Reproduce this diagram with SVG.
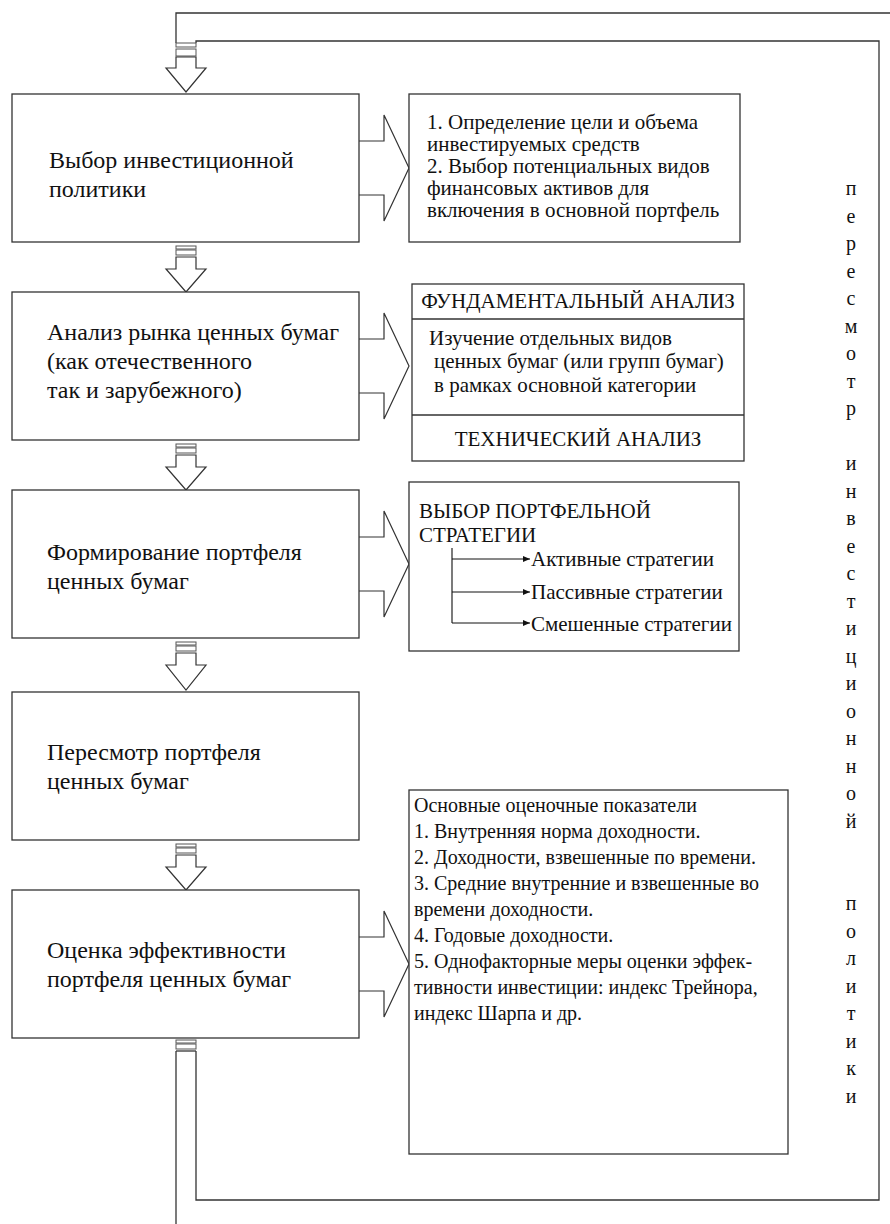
<svg xmlns="http://www.w3.org/2000/svg" width="890" height="1224" viewBox="0 0 890 1224">
<style>
.box{fill:#fff;stroke:#333;stroke-width:1.3}
.ln{fill:none;stroke:#333;stroke-width:1.3}
.arr{fill:#fff;stroke:#333;stroke-width:1.2}
.bar{fill:#fff;stroke:#555;stroke-width:1}
text{font-family:'Liberation Serif','DejaVu Serif',serif;fill:#111}
.big{font-size:24px}
.mid{font-size:21px}
.sm{font-size:20px}
.vt{font-size:20px;text-anchor:middle}
</style>
<defs>
<marker id="ah" markerWidth="8" markerHeight="8" refX="7" refY="4" orient="auto" markerUnits="userSpaceOnUse">
<path d="M0,1 L7,4 L0,7 Z" fill="#111"/>
</marker>
</defs>
<g id="connectors">
<path class="ln" d="M890,13 H176 V43"/>
<path class="ln" d="M196,43 V41 H879 V1200 H196 V1051"/>
<path class="ln" d="M176,1051 V1224"/>
<rect class="bar" x="176" y="43" width="20" height="4"/>
<rect class="bar" x="176" y="49" width="20" height="7"/>
<path class="arr" d="M176,57 H196 V68 H206 L186,92 L166,68 H176 Z"/>
<rect class="bar" x="176" y="246" width="20" height="3"/>
<rect class="bar" x="176" y="250" width="20" height="5"/>
<path class="arr" d="M176,257 H196 V269 H206 L186,292 L166,269 H176 Z"/>
<rect class="bar" x="176" y="444" width="20" height="3"/>
<rect class="bar" x="176" y="448" width="20" height="5"/>
<path class="arr" d="M176,455 H196 V467 H206 L186,490 L166,467 H176 Z"/>
<rect class="bar" x="176" y="642" width="20" height="3"/>
<rect class="bar" x="176" y="646" width="20" height="5"/>
<path class="arr" d="M176,653 H196 V665 H206 L186,690 L166,665 H176 Z"/>
<rect class="bar" x="176" y="844" width="20" height="3"/>
<rect class="bar" x="176" y="848" width="20" height="5"/>
<path class="arr" d="M176,855 H196 V867 H206 L186,890 L166,867 H176 Z"/>
<rect class="bar" x="176" y="1040" width="20" height="3"/>
<rect class="bar" x="176" y="1044" width="20" height="5"/>
<path class="ln" d="M176,1051 H196"/>
<path class="arr" d="M359,141 H384 V115 L409,168 L384,221 V195 H359"/>
<path class="arr" d="M359,339 H384 V313 L409,366 L384,419 V393 H359"/>
<path class="arr" d="M359,537 H384 V511 L409,564 L384,617 V591 H359"/>
<path class="arr" d="M359,937 H384 V911 L409,964 L384,1017 V991 H359"/>
</g>
<g id="stage1">
<rect class="box" x="12" y="94" width="347" height="148"/>
<text class="big" x="49" y="168">Выбор инвестиционной</text>
<text class="big" x="49" y="197">политики</text>
</g>
<g id="stage2">
<rect class="box" x="12" y="292" width="347" height="148"/>
<text class="big" x="47" y="340">Анализ рынка ценных бумаг</text>
<text class="big" x="47" y="369">(как отечественного</text>
<text class="big" x="47" y="398">так и  зарубежного)</text>
</g>
<g id="stage3">
<rect class="box" x="12" y="490" width="347" height="148"/>
<text class="big" x="47" y="560">Формирование  портфеля</text>
<text class="big" x="47" y="589">ценных  бумаг</text>
</g>
<g id="stage4">
<rect class="box" x="12" y="692" width="347" height="148"/>
<text class="big" x="47" y="760">Пересмотр  портфеля</text>
<text class="big" x="47" y="789">ценных бумаг</text>
</g>
<g id="stage5">
<rect class="box" x="12" y="890" width="347" height="148"/>
<text class="big" x="47" y="958">Оценка эффективности</text>
<text class="big" x="47" y="987">портфеля ценных бумаг</text>
</g>
<g id="goals">
<rect class="box" x="409" y="94" width="331" height="148"/>
<text class="mid" x="427" y="129">1. Определение цели и объема</text>
<text class="mid" x="427" y="151">инвестируемых средств</text>
<text class="mid" x="427" y="173">2. Выбор потенциальных  видов</text>
<text class="mid" x="427" y="195">финансовых активов для</text>
<text class="mid" x="427" y="217">включения в основной портфель</text>
</g>
<g id="analysis">
<rect class="box" x="412" y="284" width="332" height="177"/>
<line class="ln" x1="412" y1="319" x2="744" y2="319"/>
<line class="ln" x1="412" y1="415" x2="744" y2="415"/>
<text class="mid" x="578" y="308" text-anchor="middle">ФУНДАМЕНТАЛЬНЫЙ АНАЛИЗ</text>
<text class="mid" x="429" y="345">Изучение отдельных  видов</text>
<text class="mid" x="434" y="368">ценных  бумаг (или групп бумаг)</text>
<text class="mid" x="434" y="392">в рамках основной  категории</text>
<text class="mid" x="578" y="446" text-anchor="middle">ТЕХНИЧЕСКИЙ АНАЛИЗ</text>
</g>
<g id="strategy">
<rect class="box" x="409" y="482" width="330" height="169"/>
<text class="mid" x="419" y="518">ВЫБОР ПОРТФЕЛЬНОЙ</text>
<text class="mid" x="419" y="542">СТРАТЕГИИ</text>
<path class="ln" d="M452,548 V623" stroke-width="1"/>
<line x1="452" y1="559" x2="530" y2="559" stroke="#111" stroke-width="1" marker-end="url(#ah)"/>
<line x1="452" y1="592" x2="530" y2="592" stroke="#111" stroke-width="1" marker-end="url(#ah)"/>
<line x1="452" y1="623" x2="530" y2="623" stroke="#111" stroke-width="1" marker-end="url(#ah)"/>
<text class="mid" x="531" y="566">Активные стратегии</text>
<text class="mid" x="531" y="599">Пассивные стратегии</text>
<text class="mid" x="531" y="631">Смешенные стратегии</text>
</g>
<g id="evaluation">
<rect class="box" x="409" y="790" width="379" height="364"/>
<text class="sm" x="414" y="812">Основные оценочные показатели</text>
<text class="sm" x="414" y="838">1. Внутренняя норма доходности.</text>
<text class="sm" x="414" y="864">2. Доходности, взвешенные по времени.</text>
<text class="sm" x="414" y="890">3. Средние внутренние и взвешенные во</text>
<text class="sm" x="414" y="916">времени доходности.</text>
<text class="sm" x="414" y="942">4. Годовые доходности.</text>
<text class="sm" x="414" y="968">5. Однофакторные меры оценки эффек-</text>
<text class="sm" x="414" y="994">тивности инвестиции: индекс Трейнора,</text>
<text class="sm" x="414" y="1020">индекс Шарпа и др.</text>
</g>
<g id="feedback-label">
<text class="vt" x="851" y="195">п<tspan x="851" dy="27.5">е</tspan><tspan x="851" dy="27.5">р</tspan><tspan x="851" dy="27.5">е</tspan><tspan x="851" dy="27.5">с</tspan><tspan x="851" dy="27.5">м</tspan><tspan x="851" dy="27.5">о</tspan><tspan x="851" dy="27.5">т</tspan><tspan x="851" dy="27.5">р</tspan><tspan x="851" dy="55">и</tspan><tspan x="851" dy="27.5">н</tspan><tspan x="851" dy="27.5">в</tspan><tspan x="851" dy="27.5">е</tspan><tspan x="851" dy="27.5">с</tspan><tspan x="851" dy="27.5">т</tspan><tspan x="851" dy="27.5">и</tspan><tspan x="851" dy="27.5">ц</tspan><tspan x="851" dy="27.5">и</tspan><tspan x="851" dy="27.5">о</tspan><tspan x="851" dy="27.5">н</tspan><tspan x="851" dy="27.5">н</tspan><tspan x="851" dy="27.5">о</tspan><tspan x="851" dy="27.5">й</tspan><tspan x="851" dy="82.5">п</tspan><tspan x="851" dy="27.5">о</tspan><tspan x="851" dy="27.5">л</tspan><tspan x="851" dy="27.5">и</tspan><tspan x="851" dy="27.5">т</tspan><tspan x="851" dy="27.5">и</tspan><tspan x="851" dy="27.5">к</tspan><tspan x="851" dy="27.5">и</tspan></text>
</g>
</svg>
